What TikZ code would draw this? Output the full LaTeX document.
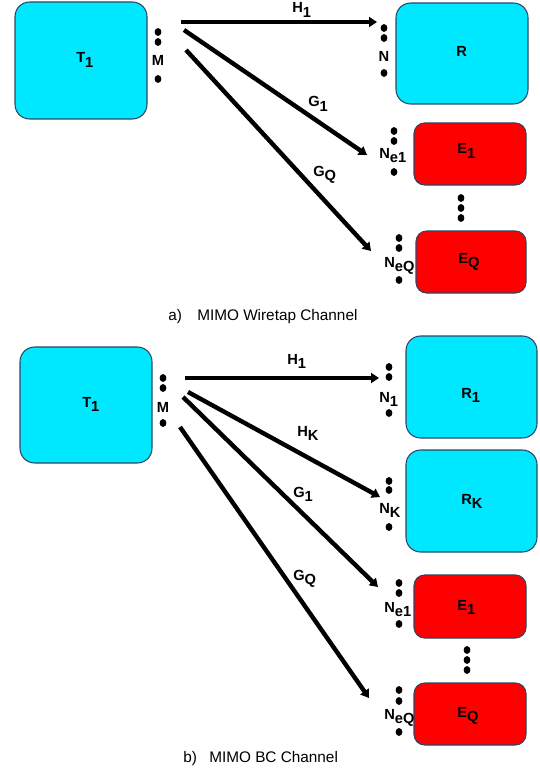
\documentclass[tikz,border=0pt]{standalone}
\usepackage{fontspec}
\setmainfont{Liberation Sans}
\usetikzlibrary{arrows.meta,fit}
\definecolor{boxcyan}{RGB}{0,232,255}
\definecolor{boxred}{RGB}{255,0,0}
\definecolor{boxedge}{RGB}{45,70,100}
\newcommand{\lowsub}[1]{\raisebox{-3.4pt}{#1}}
\tikzset{
  cbox/.style={draw=boxedge, line width=0.8pt, fill=boxcyan, rounded corners=11pt, inner sep=0pt},
  rbox/.style={draw=boxedge, line width=0.8pt, fill=boxred, rounded corners=8pt, inner sep=0pt},
  lbl/.style={font=\fontsize{11pt}{13pt}\selectfont\bfseries, inner sep=0pt, anchor=base west},
  clbl/.style={font=\fontsize{11pt}{13pt}\selectfont\bfseries, inner sep=0pt, anchor=base},
  captxt/.style={font=\fontsize{11.5pt}{13pt}\selectfont, inner sep=0pt, anchor=base west},
  dotc/.style={fill=black, draw=none},
  link/.style={line width=3.3pt, -{Triangle[length=6pt,width=7.5pt]}, shorten >=0pt},
}
\newcommand{\dotat}[2]{\fill[dotc] (#1,#2) ellipse [x radius=3.4, y radius=3.9];}
\begin{document}
\begin{tikzpicture}[x=0.75pt,y=-0.75pt]
\useasboundingbox (0,0) rectangle (539,770);
% ================= panel a =================
\node[cbox, fit={(15,2) (147,119)}] (aT) {};
\node[lbl] (aTl) at (76,63) {T\lowsub{1}};
\node[cbox, fit={(396,3) (528,104)}] (aR) {};
\node[lbl] (aRl) at (456,57) {R};
\node[rbox, fit={(414,123) (526,185)}] (aE1) {};
\node[lbl] (aE1l) at (457,154) {E\lowsub{1}};
\node[rbox, fit={(416,231) (526,293)}] (aEQ) {};
\node[lbl] (aEQl) at (458,263) {E\lowsub{Q}};
% antenna dots
\dotat{158}{32}\dotat{158}{42}\dotat{158}{79}
\node[clbl] (aM) at (158,66) {M};
\dotat{384}{28}\dotat{384}{38}\dotat{384}{73}
\node[clbl] (aN) at (384,62) {N};
\dotat{394}{131}\dotat{394}{141}\dotat{394}{172}
\node[lbl] (aNe1) at (379,158) {N\lowsub{e1}};
\dotat{461}{198}\dotat{461}{208}\dotat{461}{218}
\dotat{399}{238}\dotat{399}{248}\dotat{399}{280}
\node[lbl] (aNeQ) at (384,267) {N\lowsub{eQ}};
% links
\coordinate (aH1s) at (181,22); \coordinate (aH1e) at (377,22);
\coordinate (aG1s) at (184,30); \coordinate (aG1e) at (367,155);
\coordinate (aGQs) at (186,50); \coordinate (aGQe) at (371,251);
\draw[link] (aH1s) -- (aH1e);
\draw[link] (aG1s) -- (aG1e);
\draw[link] (aGQs) -- (aGQe);
\node[lbl] (aH1l) at (292,13) {H\lowsub{1}};
\node[lbl] (aG1l) at (308,107) {G\lowsub{1}};
\node[lbl] (aGQl) at (313,176) {G\lowsub{Q}};
\node[captxt] (acapa) at (168,320) {a)};
\node[captxt] (acapt) at (197,320) {MIMO Wiretap Channel};
% ================= panel b =================
\node[cbox, fit={(20,347) (152,463)}] (bT) {};
\node[lbl] (bTl) at (82,407) {T\lowsub{1}};
\node[cbox, fit={(406,336) (537,438)}] (bR1) {};
\node[lbl] (bR1l) at (461,398) {R\lowsub{1}};
\node[cbox, fit={(406,450) (537,552)}] (bRK) {};
\node[lbl] (bRKl) at (461,504) {R\lowsub{K}};
\node[rbox, fit={(414,575) (526,638)}] (bE1) {};
\node[lbl] (bE1l) at (457,610) {E\lowsub{1}};
\node[rbox, fit={(414,683) (526,745)}] (bEQ) {};
\node[lbl] (bEQl) at (457,717) {E\lowsub{Q}};
% antenna dots
\dotat{163}{378}\dotat{163}{388}\dotat{163}{423}
\node[clbl] (bM) at (163,412) {M};
\dotat{389}{367}\dotat{389}{377}\dotat{389}{413}
\node[lbl] (bN1) at (379,402) {N\lowsub{1}};
\dotat{389}{481}\dotat{389}{490}\dotat{389}{527}
\node[lbl] (bNK) at (379,513) {N\lowsub{K}};
\dotat{399}{583}\dotat{399}{593}\dotat{399}{624}
\node[lbl] (bNe1) at (384,612) {N\lowsub{e1}};
\dotat{467}{650}\dotat{467}{660}\dotat{467}{670}
\dotat{399}{690}\dotat{399}{701}\dotat{399}{732}
\node[lbl] (bNeQ) at (384,719) {N\lowsub{eQ}};
% links
\coordinate (bH1s) at (185,378); \coordinate (bH1e) at (379,378);
\coordinate (bHKs) at (188,392); \coordinate (bHKe) at (380,497);
\coordinate (bG1s) at (183,397); \coordinate (bG1e) at (378,587);
\coordinate (bGQs) at (180,427); \coordinate (bGQe) at (369,698);
\draw[link] (bH1s) -- (bH1e);
\draw[link] (bHKs) -- (bHKe);
\draw[link] (bG1s) -- (bG1e);
\draw[link] (bGQs) -- (bGQe);
\node[lbl] (bH1l) at (287,364) {H\lowsub{1}};
\node[lbl] (bHKl) at (297,436) {H\lowsub{K}};
\node[lbl] (bG1l) at (293,497) {G\lowsub{1}};
\node[lbl] (bGQl) at (293,580) {G\lowsub{Q}};
\node[captxt] (bcapb) at (183,762) {b)};
\node[captxt] (bcapt) at (209,762) {MIMO BC Channel};
\end{tikzpicture}
\end{document}
